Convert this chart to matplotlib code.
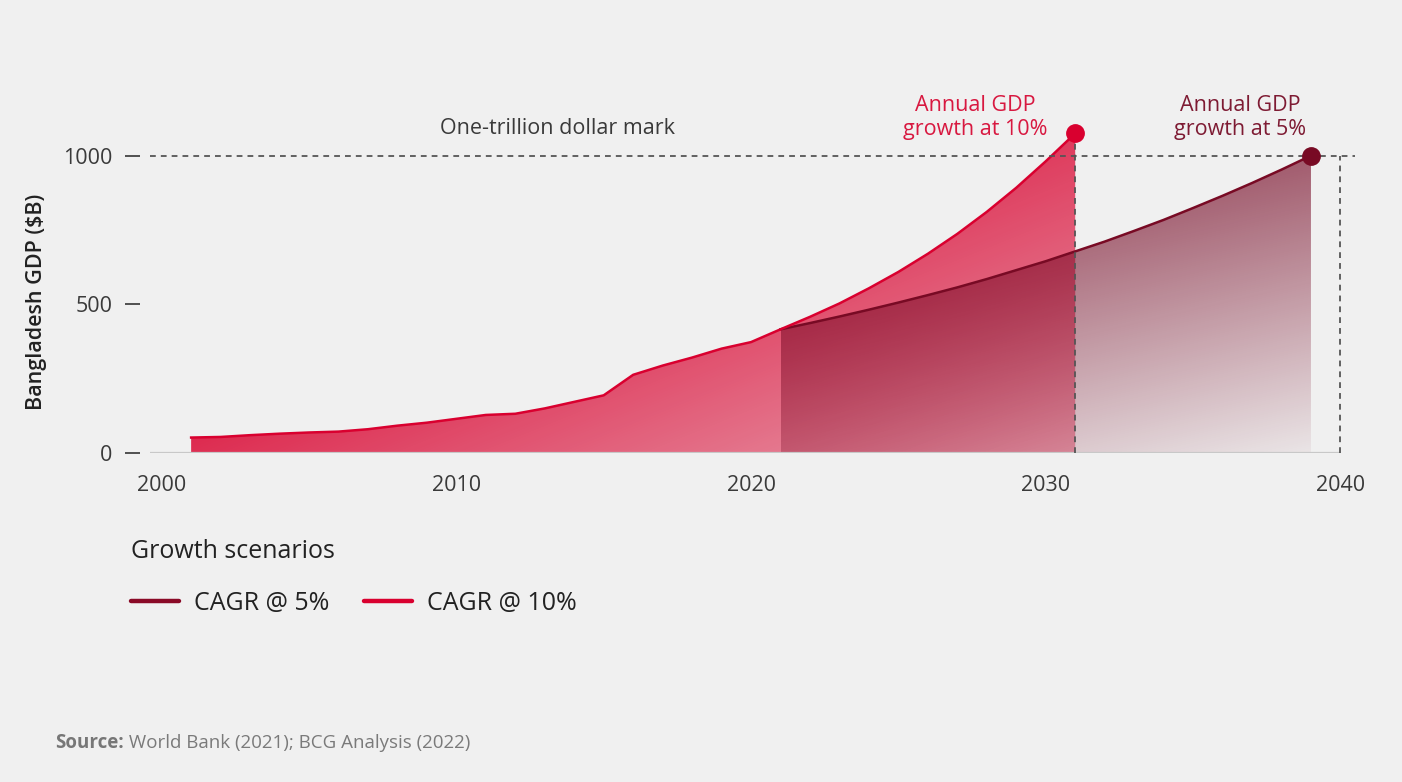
import matplotlib.pyplot as plt
import numpy as np

plt.rcParams["font.family"] = ["Open Sans", "DejaVu Sans"]

# historical GDP ($B) and the two projection scenarios
years_hist = [2001, 2002, 2003, 2004, 2005, 2006, 2007, 2008, 2009, 2010, 2011,
              2012, 2013, 2014, 2015, 2016, 2017, 2018, 2019, 2020, 2021]
gdp_hist = [52, 54, 60, 65, 69, 72, 80, 92, 102, 115, 128,
            132, 150, 172, 194, 263, 294, 321, 351, 373, 416]

years_10 = [2021, 2022, 2023, 2024, 2025, 2026, 2027, 2028, 2029, 2030, 2031]
gdp_10 = [416, 458, 503, 554, 609, 670, 737, 811, 892, 981, 1075]

years_5 = [2021, 2022, 2023, 2024, 2025, 2026, 2027, 2028, 2029, 2030,
           2031, 2032, 2033, 2034, 2035, 2036, 2037, 2038, 2039]
gdp_5 = [416, 437, 459, 482, 506, 531, 557, 585, 615, 645,
         678, 711, 747, 784, 824, 865, 908, 953, 1000]

trillion = 1000
x_ticks = [2000, 2010, 2020, 2030, 2040]
y_ticks = [0, 500, 1000]

BG = "#F0F0F0"
RED = "#D9002F"
MAROON = "#780A24"


def gradient_fill(ax, x, y, rgb, alpha_fn, zorder):
    x = np.asarray(x, dtype=float)
    y = np.asarray(y, dtype=float)
    poly = ax.fill_between(x, 0, y, facecolor="none", edgecolor="none")
    s, t = np.meshgrid(np.linspace(0, 1, 300), np.linspace(0, 1, 300))
    img = np.zeros((300, 300, 4))
    img[..., :3] = rgb
    img[..., 3] = np.clip(alpha_fn(s, t), 0, 1)
    im = ax.imshow(img, extent=[x.min(), x.max(), 0, y.max()], origin="lower",
                   aspect="auto", zorder=zorder, interpolation="bilinear")
    im.set_clip_path(poly.get_paths()[0], transform=ax.transData)
    return im


fig = plt.figure(figsize=(14.02, 7.82), dpi=100, facecolor=BG)
ax = fig.add_axes([0.1069, 0.4207, 0.8597, 0.4563])
ax.set_facecolor(BG)

x10 = years_hist + years_10[1:]
y10 = gdp_hist + gdp_10[1:]

gradient_fill(ax, x10, y10, (0.86, 0.08, 0.24),
              lambda s, t: 0.88 - 0.5 * s + 0.45 * t, zorder=1)
gradient_fill(ax, years_5, gdp_5, (0.47, 0.04, 0.15),
              lambda s, t: 0.05 + 0.6 * t + 0.25 * (1 - s), zorder=2)

ax.plot(x10, y10, color=RED, lw=1.8, zorder=4, solid_joinstyle="round")
ax.plot(years_5, gdp_5, color=MAROON, lw=1.8, zorder=3, solid_joinstyle="round")

ax.plot(years_10[-1], gdp_10[-1], "o", ms=12.5, color=RED, zorder=6, clip_on=False)
ax.plot(years_5[-1], gdp_5[-1], "o", ms=12.5, color=MAROON, zorder=6, clip_on=False)

dash = (0, (3.2, 2.8))
ax.axhline(trillion, color="#555555", lw=1.3, ls=dash, zorder=5)
ax.plot([years_10[-1], years_10[-1]], [0, gdp_10[-1]], color="#555555", lw=1.3, ls=dash, zorder=5)
ax.plot([2040, 2040], [0, trillion], color="#555555", lw=1.3, ls=dash, zorder=5)
ax.plot([1999.6, 2040], [0, 0], color="#C8C8C8", lw=1.6, zorder=4, solid_capstyle="butt")

ax.text(2013.42, 1093, "One-trillion dollar mark", ha="center", va="center",
        fontsize=15.5, color="#3A3A3A")
ax.text(2027.6, 1128, "Annual GDP\ngrowth at 10%", ha="center", va="center",
        fontsize=15.5, color="#D81840", linespacing=1.15)
ax.text(2036.6, 1128, "Annual GDP\ngrowth at 5%", ha="center", va="center",
        fontsize=15.5, color="#7E1B33", linespacing=1.15)

ax.set_xlim(1999.6, 2040.5)
ax.set_ylim(0, 1200)
ax.set_xticks(x_ticks)
ax.set_yticks(y_ticks)
for sp in ax.spines.values():
    sp.set_visible(False)
ax.spines["left"].set_position(("outward", 7.2))
ax.tick_params(axis="x", length=0, pad=16, labelsize=15.5, labelcolor="#3A3A3A")
ax.tick_params(axis="y", length=10.8, width=1.3, color="#444444", pad=9,
               labelsize=15.5, labelcolor="#3A3A3A")

ax.set_ylabel("Bangladesh GDP ($B)", fontsize=15.5, fontweight="semibold", color="#222222")
ax.yaxis.set_label_coords(-0.0855, 0.423)

handles = [
    plt.Line2D([], [], color="#8A0A27", lw=3.2, solid_capstyle="round"),
    plt.Line2D([], [], color=RED, lw=3.2, solid_capstyle="round"),
]
leg = fig.legend(handles, ["CAGR @ 5%", "CAGR @ 10%"], title="Growth scenarios",
                 loc="upper left", bbox_to_anchor=(131 / 1402, 1 - 539 / 782),
                 ncol=2, frameon=False, fontsize=18, title_fontsize=18,
                 handlelength=1.9, handletextpad=0.62, columnspacing=1.4,
                 borderpad=0, borderaxespad=0, labelspacing=1.08, alignment="left")
for txt in leg.get_texts():
    txt.set_color("#222222")
leg.get_title().set_color("#222222")

src = fig.text(55 / 1402, 1 - 743 / 782, "Source:", fontsize=13.5, fontweight="bold",
               color="#777777", va="center")
ax.annotate(" World Bank (2021); BCG Analysis (2022)", xy=(1, 0.5), xycoords=src,
            va="center", ha="left", fontsize=13.5, color="#7A7A7A", annotation_clip=False)

fig.savefig("out.png", dpi=100, facecolor=BG)
